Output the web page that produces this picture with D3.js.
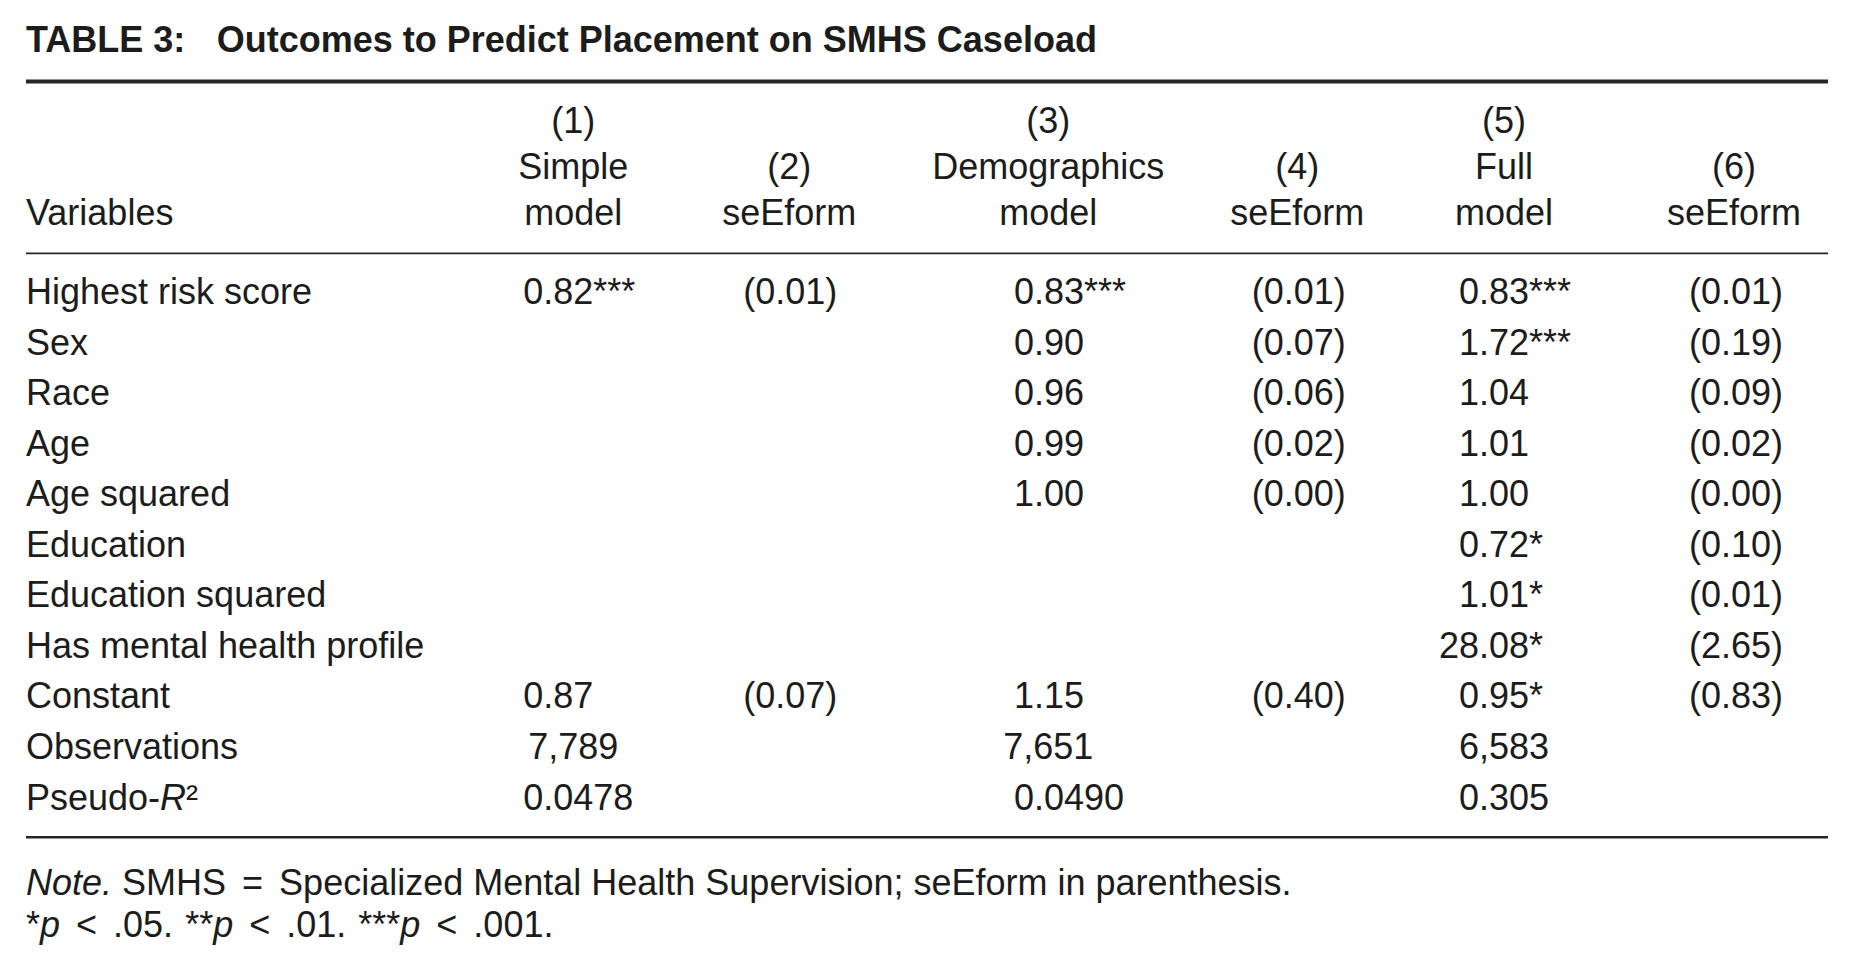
<!DOCTYPE html>
<html>
<head>
<meta charset="utf-8">
<script src="https://cdn.jsdelivr.net/npm/d3@7"></script>
<style>
  html, body { margin: 0; padding: 0; background: #ffffff; }
  svg { display: block; }
  text { font-family: "Liberation Sans", Arial, Helvetica, sans-serif; fill: #1c1c1c; }
</style>
</head>
<body>
<div id="chart"></div>
<script>
// ---------------- data ----------------
const tableTitle = "TABLE 3:";
const tableSubtitle = "Outcomes to Predict Placement on SMHS Caseload";

const rowLabels = [
  "Highest risk score", "Sex", "Race", "Age", "Age squared", "Education",
  "Education squared", "Has mental health profile", "Constant", "Observations", "Pseudo-R2"
];

const columnIds = ["c1", "c2", "c3", "c4", "c5", "c6"];
const columnHeaders = [
  ["(1)", "Simple", "model"],
  ["(2)", "seEform"],
  ["(3)", "Demographics", "model"],
  ["(4)", "seEform"],
  ["(5)", "Full", "model"],
  ["(6)", "seEform"]
];

const simpleModel   = ["0.82***", "", "", "", "", "", "", "", "0.87", "7,789", "0.0478"];
const simpleSe      = ["(0.01)", "", "", "", "", "", "", "", "(0.07)", "", ""];
const demographics  = ["0.83***", "0.90", "0.96", "0.99", "1.00", "", "", "", "1.15", "7,651", "0.0490"];
const demographicsSe= ["(0.01)", "(0.07)", "(0.06)", "(0.02)", "(0.00)", "", "", "", "(0.40)", "", ""];
const fullModel     = ["0.83***", "1.72***", "1.04", "1.01", "1.00", "0.72*", "1.01*", "28.08*", "0.95*", "6,583", "0.305"];
const fullSe        = ["(0.01)", "(0.19)", "(0.09)", "(0.02)", "(0.00)", "(0.10)", "(0.01)", "(2.65)", "(0.83)", "", ""];

const noteLine1 = ["Note.", " SMHS", "=", "Specialized Mental Health Supervision; seEform in parenthesis."];
const pValues = [".05.", ".01.", ".001."];
const starLevels = ["*", "**", "***"];

// ---------------- layout ----------------
const W = 1854, H = 972;
const FS = 36;
const left = 26, right = 1828;

const columns = [simpleModel, simpleSe, demographics, demographicsSe, fullModel, fullSe];

const xCenter = d3.scaleOrdinal().domain(columnIds)
  .range([573.3, 789.3, 1048.3, 1297.3, 1504, 1734]);
const xDecimal = d3.scaleOrdinal().domain(columnIds)
  .range([543.3, 775.3, 1034, 1283.7, 1479, 1721]);
const yRow = d3.scalePoint().domain(rowLabels).range([304, 809.5]);
const headerLineY = d3.scalePoint().domain([0, 1, 2]).range([133, 225]);

const svg = d3.select("#chart").append("svg")
  .attr("width", W).attr("height", H)
  .attr("viewBox", `0 0 ${W} ${H}`);

svg.append("rect").attr("width", W).attr("height", H).attr("fill", "#fff");

// title
const title = svg.append("text")
  .attr("x", left).attr("y", 51.7)
  .attr("font-size", FS).attr("font-weight", "bold");
title.append("tspan").text(tableTitle);
title.append("tspan").attr("x", 216.7).text(tableSubtitle);

// rules
const ruleColor = "#262626";
svg.append("line").attr("x1", left).attr("x2", right)
  .attr("y1", 81.5).attr("y2", 81.5)
  .attr("stroke", ruleColor).attr("stroke-width", 4);
svg.append("line").attr("x1", left).attr("x2", right)
  .attr("y1", 253.3).attr("y2", 253.3)
  .attr("stroke", ruleColor).attr("stroke-width", 1.8);
svg.append("line").attr("x1", left).attr("x2", right)
  .attr("y1", 837.3).attr("y2", 837.3)
  .attr("stroke", ruleColor).attr("stroke-width", 2.6);

// header
svg.append("text").attr("x", left).attr("y", headerLineY(2))
  .attr("font-size", FS).text("Variables");

columnHeaders.forEach((lines, ci) => {
  const offset = 3 - lines.length;
  lines.forEach((ln, li) => {
    svg.append("text")
      .attr("x", xCenter(columnIds[ci]))
      .attr("y", headerLineY(li + offset))
      .attr("text-anchor", "middle")
      .attr("font-size", FS)
      .text(ln);
  });
});

// row labels
const labelG = svg.append("g");
rowLabels.forEach(lbl => {
  const t = labelG.append("text").attr("x", left).attr("y", yRow(lbl)).attr("font-size", FS);
  if (lbl === "Pseudo-R2") {
    t.append("tspan").text("Pseudo-");
    t.append("tspan").attr("font-style", "italic").text("R");
    t.append("tspan").text("\u00B2");
  } else {
    t.text(lbl);
  }
});

// cells (decimal aligned; values without a decimal point are centred)
columns.forEach((vals, ci) => {
  const id = columnIds[ci];
  const g = svg.append("g");
  vals.forEach((v, ri) => {
    if (!v) return;
    const y = yRow(rowLabels[ri]);
    const dot = v.indexOf(".");
    if (dot < 0) {
      g.append("text").attr("x", xCenter(id)).attr("y", y)
        .attr("text-anchor", "middle").attr("font-size", FS).text(v);
    } else {
      g.append("text").attr("x", xDecimal(id)).attr("y", y)
        .attr("text-anchor", "end").attr("font-size", FS).text(v.slice(0, dot));
      g.append("text").attr("x", xDecimal(id)).attr("y", y)
        .attr("text-anchor", "start").attr("font-size", FS).text(v.slice(dot));
    }
  });
});

// notes
const n1 = svg.append("text").attr("x", left).attr("y", 895).attr("font-size", FS)
  .attr("xml:space", "preserve");
n1.append("tspan").attr("font-style", "italic").text(noteLine1[0]);
n1.append("tspan").text(noteLine1[1]);
n1.append("tspan").attr("dx", 16).text(noteLine1[2]);
n1.append("tspan").attr("dx", 16).text(noteLine1[3]);

const n2 = svg.append("text").attr("x", left).attr("y", 936.7).attr("font-size", FS);
starLevels.forEach((s, i) => {
  n2.append("tspan").attr("dx", i === 0 ? 0 : 12).text(s);
  n2.append("tspan").attr("font-style", "italic").text("p");
  n2.append("tspan").attr("dx", 16).text("<");
  n2.append("tspan").attr("dx", 16).text(pValues[i]);
});
</script>
</body>
</html>
